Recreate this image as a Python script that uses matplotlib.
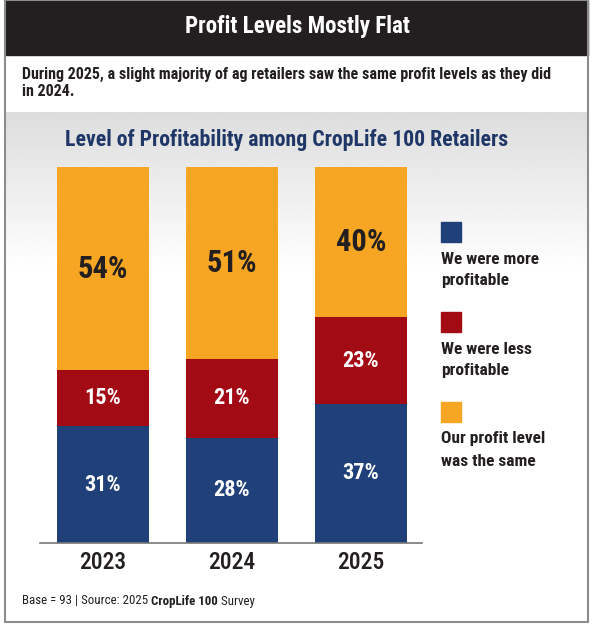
"""Profit levels mostly flat: stacked bars of retailer profitability, 2023-2025."""

import numpy as np
import matplotlib

matplotlib.use("Agg")
import matplotlib.pyplot as plt
from matplotlib.patches import Rectangle

W, H = 593, 630

years = ["2023", "2024", "2025"]
more_profitable = [31, 28, 37]
less_profitable = [15, 21, 23]
same_level = [54, 51, 40]
legend_labels = [
    "We were more\nprofitable",
    "We were less\nprofitable",
    "Our profit level\nwas the same",
]

BLUE = "#1f4079"
RED = "#a30b14"
ORANGE = "#f6a623"
INK = "#231f20"
NAVY = "#1f3767"

plt.rcParams["font.family"] = ["Roboto Condensed", "DejaVu Sans"]


def fx(x):
    return x / W


def fy(y):
    return 1 - y / H


fig = plt.figure(figsize=(W / 100, H / 100), dpi=100)

# grey-to-white gradient behind the chart
bg = fig.add_axes([fx(6), fy(621), fx(588) - fx(6), fy(112) - fy(621)])
rows = np.linspace(0, 1, 400)
shade = 0.865 + (1 - 0.865) * np.clip(rows / 0.31, 0, 1)
bg.imshow(shade[:, None], cmap="gray", vmin=0, vmax=1, aspect="auto",
          extent=[0, 1, 0, 1], interpolation="bilinear")
bg.set_axis_off()

# header band and outer frame
fig.patches.append(Rectangle((fx(6), fy(55)), fx(588) - fx(6), fy(0) - fy(55),
                             transform=fig.transFigure, color=INK, zorder=0))
fig.patches.append(Rectangle((fx(5), fy(622)), fx(588) - fx(5), fy(0) - fy(622),
                             transform=fig.transFigure, fill=False,
                             edgecolor="#8c8c8c", linewidth=1.5, zorder=5))

fig.text(fx(297), fy(27), "Profit Levels Mostly Flat", color="white",
         fontsize=16.6, fontweight="bold", ha="center", va="center")
fig.text(fx(22), fy(74), "During 2025, a slight majority of ag retailers saw the same profit levels as they did",
         color=INK, fontsize=11.5, fontweight="bold", ha="left", va="center")
fig.text(fx(22), fy(92), "in 2024.", color=INK, fontsize=11.5, fontweight="bold",
         ha="left", va="center")
fig.text(fx(287), fy(140), "Level of Profitability among CropLife 100 Retailers",
         color=NAVY, fontsize=15.7, fontweight="bold", ha="center", va="center")

# stacked bars
ax = fig.add_axes([fx(40), fy(543), fx(422) - fx(40), fy(167) - fy(543)])
ax.patch.set_alpha(0)
x = np.arange(len(years))
width = 0.72
bottom = np.zeros(len(years))
for values, color, text_color, size in [
    (more_profitable, BLUE, "white", 16),
    (less_profitable, RED, "white", 16),
    (same_level, ORANGE, INK, 22),
]:
    ax.bar(x, values, width, bottom=bottom, color=color, linewidth=0)
    for xi, b, v in zip(x, bottom, values):
        ax.text(xi, b + v / 2, f"{v}%", color=text_color, fontsize=size,
                fontweight="bold", ha="center", va="center")
    bottom += values

ax.set_xlim(-0.488, 2.473)
ax.set_ylim(0, 100)
for side in ["top", "left", "right"]:
    ax.spines[side].set_visible(False)
ax.spines["bottom"].set_color("#777777")
ax.spines["bottom"].set_linewidth(1.2)
ax.set_yticks([])
ax.set_xticks(x, years)
ax.tick_params(axis="x", length=0, pad=6, labelsize=17, labelcolor=INK)
for lbl in ax.get_xticklabels():
    lbl.set_fontweight("medium")

# legend
for i, (label, color) in enumerate(zip(legend_labels, [BLUE, RED, ORANGE])):
    top = 222 + i * 90
    fig.patches.append(Rectangle((fx(441), fy(top + 20)), fx(20), 20 / H,
                                 transform=fig.transFigure, color=color))
    for j, line in enumerate(label.split("\n")):
        fig.text(fx(441), fy(top + 37 + j * 22), line, color=INK, fontsize=12.5,
                 fontweight="bold", ha="left", va="center")

# footer with a bold survey name
renderer = fig.canvas.get_renderer()
cursor = fx(22)
for part, weight in [("Base = 93 | Source: 2025 ", "normal"),
                     ("CropLife 100", "bold"),
                     (" Survey", "normal")]:
    t = fig.text(cursor, fy(601), part, color=INK, fontsize=9.3,
                 fontweight=weight, ha="left", va="center")
    bb = t.get_window_extent(renderer)
    cursor += bb.width / fig.bbox.width

fig.savefig("out.png", dpi=100)
